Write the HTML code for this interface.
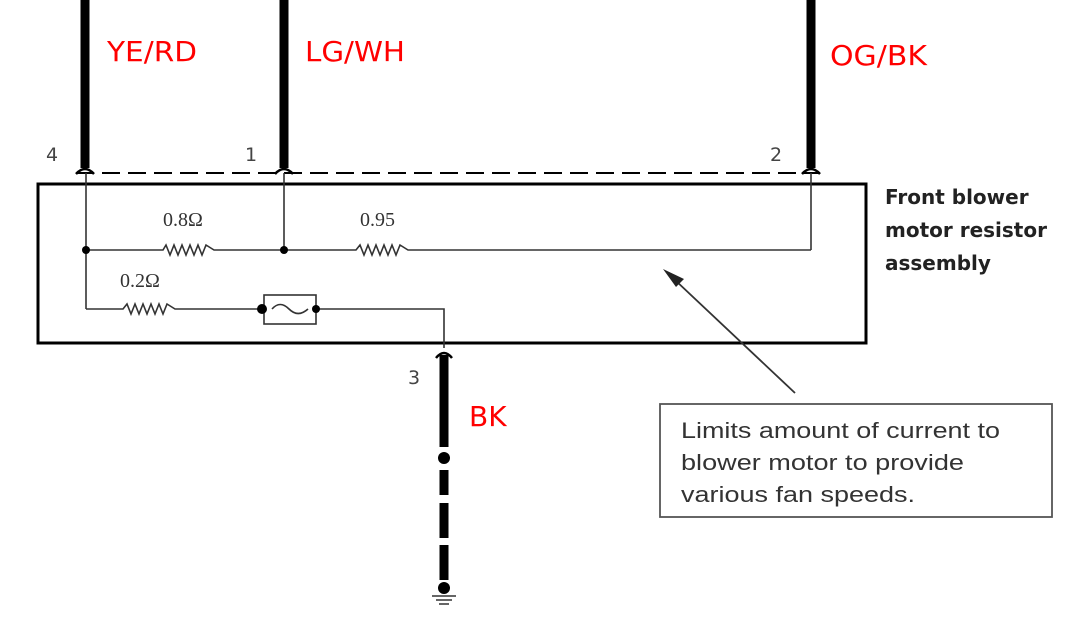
<!DOCTYPE html>
<html><head><style>
html,body{margin:0;padding:0;background:#fff;width:1088px;height:622px;overflow:hidden}
</style></head><body>
<svg width="1088" height="622" xmlns="http://www.w3.org/2000/svg" font-family="DejaVu Sans, sans-serif">
<g stroke="#000" stroke-width="9">
<line x1="85" y1="0" x2="85" y2="168"/>
<line x1="284" y1="0" x2="284" y2="168"/>
<line x1="811" y1="0" x2="811" y2="168"/>
</g>
<g fill="none" stroke="#000" stroke-width="2.5">
<path d="M76,174 Q85,164 94,174"/>
<path d="M275,174 Q284,164 293,174"/>
<path d="M802,174 Q811,164 820,174"/>
</g>
<line x1="76" y1="173" x2="820" y2="173" stroke="#000" stroke-width="2" stroke-dasharray="18,8"/>
<rect x="38" y="184" width="828" height="159" fill="none" stroke="#000" stroke-width="3"/>
<g stroke="#333" stroke-width="1.6" fill="none">
<line x1="86" y1="173" x2="86" y2="309"/>
<line x1="284" y1="173" x2="284" y2="250"/>
<line x1="811" y1="173" x2="811" y2="250"/>
<polyline points="86,250 163,250 166,245 170,255 174,245 178,255 182,245 186,255 190,245 194,255 198,245 202,255 206,245 214,250 284,250 356,250 360,245 364,255 368,245 372,255 376,245 380,255 384,245 388,255 392,245 396,255 400,245 408,250 811,250"/>
<polyline points="86,309 123,309 127,304 131,314 135,304 139,314 143,304 147,314 151,304 155,314 159,304 163,314 167,304 175,309 258,309"/>
<polyline points="316,309 444,309 444,348"/>
<rect x="264" y="295" width="52" height="29"/>
<path d="M272,309 Q280,300 289,309 Q298,318 308,309"/>
</g>
<g fill="#000">
<circle cx="86" cy="250" r="4"/><circle cx="284" cy="250" r="4"/>
<circle cx="262" cy="309" r="5"/><circle cx="316" cy="309" r="4"/>
</g>
<g font-family="Liberation Serif, serif" font-size="20" fill="#333">
<text x="163" y="226">0.8Ω</text>
<text x="360" y="226">0.95</text>
<text x="120" y="287">0.2Ω</text>
</g>
<g font-size="19" fill="#444">
<text x="46" y="161">4</text><text x="245" y="161">1</text><text x="770" y="161">2</text><text x="408" y="384">3</text>
</g>
<g stroke="#000" stroke-width="9">
<line x1="444" y1="355" x2="444" y2="447"/>
<line x1="444" y1="470" x2="444" y2="495"/>
<line x1="444" y1="503" x2="444" y2="538"/>
<line x1="444" y1="545" x2="444" y2="580"/>
</g>
<path d="M436,358 Q444,348 452,358" fill="none" stroke="#000" stroke-width="2.5"/>
<circle cx="444" cy="458" r="6" fill="#000"/>
<circle cx="444" cy="588" r="6" fill="#000"/>
<g stroke="#333" stroke-width="1.5">
<line x1="432" y1="596" x2="456" y2="596"/>
<line x1="436" y1="600" x2="452" y2="600"/>
<line x1="439" y1="604" x2="449" y2="604"/>
</g>
<g fill="#f00" font-size="28">
<text x="107" y="61" textLength="90" lengthAdjust="spacingAndGlyphs">YE/RD</text>
<text x="305" y="61" textLength="100" lengthAdjust="spacingAndGlyphs">LG/WH</text>
<text x="830" y="65" textLength="97" lengthAdjust="spacingAndGlyphs">OG/BK</text>
<text x="469" y="426">BK</text>
</g>
<g font-size="20" font-weight="bold" fill="#222">
<text x="885" y="204">Front blower</text>
<text x="885" y="237">motor resistor</text>
<text x="885" y="270">assembly</text>
</g>
<line x1="795" y1="393" x2="675" y2="280" stroke="#333" stroke-width="1.8"/>
<polygon points="663,269 684,279 676,287" fill="#222"/>
<rect x="660" y="404" width="392" height="113" fill="none" stroke="#555" stroke-width="1.8"/>
<g font-family="Liberation Sans, sans-serif" font-size="22" fill="#333">
<text x="681" y="438" textLength="319" lengthAdjust="spacingAndGlyphs">Limits amount of current to</text>
<text x="681" y="470" textLength="283" lengthAdjust="spacingAndGlyphs">blower motor to provide</text>
<text x="681" y="502" textLength="234" lengthAdjust="spacingAndGlyphs">various fan speeds.</text>
</g>
</svg>
</body></html>
